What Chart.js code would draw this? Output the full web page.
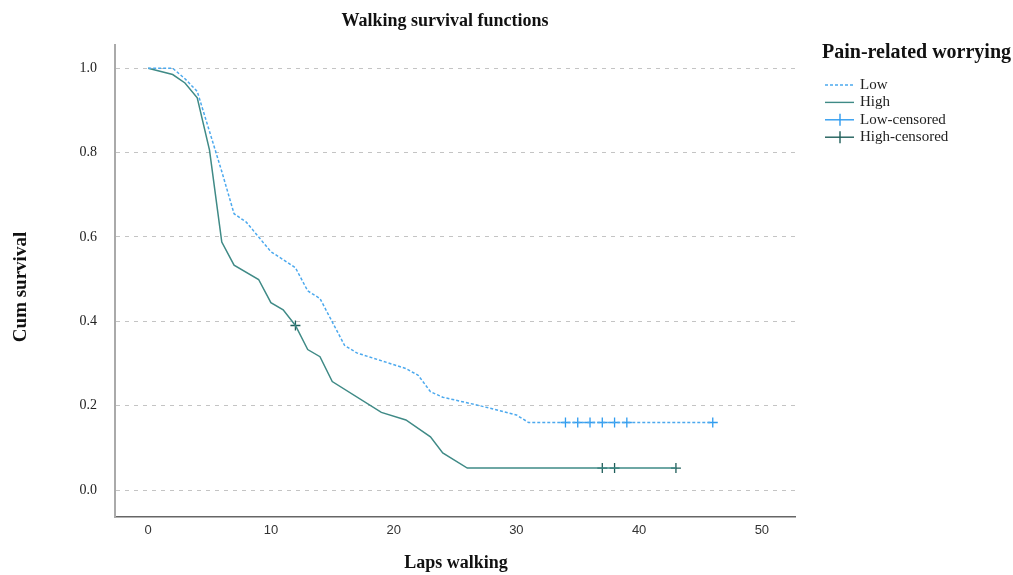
<!DOCTYPE html>
<html>
<head>
<meta charset="utf-8">
<script src="https://cdn.jsdelivr.net/npm/chart.js@4"></script>
<style>
  html, body { margin: 0; padding: 0; background: #fff; }
  #wrap { width: 1013px; height: 575px; position: relative; }
</style>
</head>
<body>
<div id="wrap"><canvas id="survChart"></canvas></div>
<script>
// Low pain-related worrying
const lowX = [0, 2, 3, 4, 5, 6, 7, 8, 10, 12, 13, 14, 16, 17, 21, 22, 23, 24, 27, 30, 31, 46];
const lowY = [1.0, 1.0, 0.975, 0.945, 0.85, 0.755, 0.655, 0.635, 0.565, 0.527, 0.472, 0.454, 0.343, 0.325, 0.288, 0.272, 0.233, 0.22, 0.2, 0.178, 0.16, 0.16];
// High pain-related worrying
const highX = [0, 2, 3, 4, 5, 6, 7, 9, 10, 11, 12, 13, 14, 15, 19, 21, 23, 24, 26, 43];
const highY = [1.0, 0.985, 0.965, 0.93, 0.806, 0.588, 0.533, 0.499, 0.444, 0.427, 0.39, 0.333, 0.316, 0.257, 0.184, 0.166, 0.126, 0.088, 0.052, 0.052];
// censored cases
const lowCensX = [34, 35, 36, 37, 38, 39, 46];
const lowCensY = [0.16, 0.16, 0.16, 0.16, 0.16, 0.16, 0.16];
const highCensX = [12, 37, 38, 43];
const highCensY = [0.39, 0.052, 0.052, 0.052];

const xTicks = [0, 10, 20, 30, 40, 50];
const yTicks = [0, 0.2, 0.4, 0.6, 0.8, 1.0];

const lowColor = '#4CA9EE';
const highColor = '#3F8A86';
const lowCensColor = '#2E9BEF';
const highCensColor = '#1F5E5A';

const toPoints = (xs, ys) => xs.map((x, i) => ({ x: x, y: ys[i] }));

const overlay = {
    id: 'overlay',
    afterDraw(chart) {
        const ctx = chart.ctx;
        ctx.save();
        ctx.fillStyle = '#111';
        ctx.textBaseline = 'middle';

        // title
        ctx.font = 'bold 18px "Liberation Serif"';
        ctx.textAlign = 'center';
        ctx.fillText('Walking survival functions', 445, 21);

        // x title
        ctx.font = 'bold 18px "Liberation Serif"';
        ctx.fillText('Laps walking', 456, 563);

        // y title
        ctx.save();
        ctx.translate(21, 287);
        ctx.rotate(-Math.PI / 2);
        ctx.font = 'bold 19px "Liberation Serif"';
        ctx.fillText('Cum survival', 0, 0);
        ctx.restore();

        // legend
        ctx.textAlign = 'left';
        ctx.font = 'bold 20px "Liberation Serif"';
        ctx.fillText('Pain-related worrying', 822, 53);

        const items = [
            { label: 'Low', color: lowColor, dash: [3, 2], cens: false },
            { label: 'High', color: highColor, dash: [], cens: false },
            { label: 'Low-censored', color: lowCensColor, dash: [], cens: true },
            { label: 'High-censored', color: highCensColor, dash: [], cens: true }
        ];
        ctx.font = '15px "Liberation Serif"';
        items.forEach((it, i) => {
            const y = 85 + i * 17.4;
            ctx.strokeStyle = it.color;
            ctx.lineWidth = 1.4;
            ctx.setLineDash(it.dash);
            ctx.beginPath();
            ctx.moveTo(825, y);
            ctx.lineTo(854, y);
            ctx.stroke();
            ctx.setLineDash([]);
            if (it.cens) {
                ctx.beginPath();
                ctx.moveTo(840, y - 6);
                ctx.lineTo(840, y + 6);
                ctx.stroke();
            }
            ctx.fillStyle = '#222';
            ctx.fillText(it.label, 860, y);
        });
        ctx.restore();
    }
};

new Chart(document.getElementById('survChart'), {
    type: 'line',
    data: {
        datasets: [
            {
                label: 'Low',
                data: toPoints(lowX, lowY),
                borderColor: lowColor,
                borderWidth: 1.5,
                borderDash: [3, 2],
                pointRadius: 0,
                tension: 0,
                fill: false
            },
            {
                label: 'High',
                data: toPoints(highX, highY),
                borderColor: highColor,
                borderWidth: 1.5,
                pointRadius: 0,
                tension: 0,
                fill: false
            },
            {
                label: 'Low-censored',
                data: toPoints(lowCensX, lowCensY),
                showLine: false,
                pointStyle: 'cross',
                pointRadius: 5,
                pointBorderWidth: 1.3,
                pointBorderColor: lowCensColor,
                borderColor: lowCensColor
            },
            {
                label: 'High-censored',
                data: toPoints(highCensX, highCensY),
                showLine: false,
                pointStyle: 'cross',
                pointRadius: 5,
                pointBorderWidth: 1.3,
                pointBorderColor: highCensColor,
                borderColor: highCensColor
            }
        ]
    },
    options: {
        responsive: true,
        maintainAspectRatio: false,
        animation: false,
        layout: {
            padding: { top: 45, right: 218, left: 0, bottom: 0 }
        },
        plugins: {
            legend: { display: false },
            title: { display: false },
            tooltip: { enabled: false }
        },
        scales: {
            x: {
                type: 'linear',
                min: -2.7,
                max: 52.7,
                afterBuildTicks: scale => { scale.ticks = xTicks.map(v => ({ value: v })); },
                afterFit: scale => { scale.height = 58; },
                grid: { display: false, drawTicks: false },
                border: { display: true, color: '#666', width: 1.5 },
                ticks: {
                    padding: 6,
                    color: '#333',
                    font: { family: '"Liberation Sans Narrow", "Liberation Sans"', size: 13 }
                }
            },
            y: {
                min: -0.064,
                max: 1.055,
                afterBuildTicks: scale => { scale.ticks = yTicks.map(v => ({ value: v })); },
                afterFit: scale => { scale.width = 115; },
                grid: { color: '#c4c4c4', lineWidth: 1, drawTicks: false },
                border: { display: true, color: '#aaa', width: 2, dash: [4, 5] },
                ticks: {
                    padding: 18,
                    color: '#222',
                    font: { family: '"Liberation Serif"', size: 14 },
                    callback: v => v.toFixed(1)
                }
            }
        }
    },
    plugins: [overlay]
});
</script>
</body>
</html>
